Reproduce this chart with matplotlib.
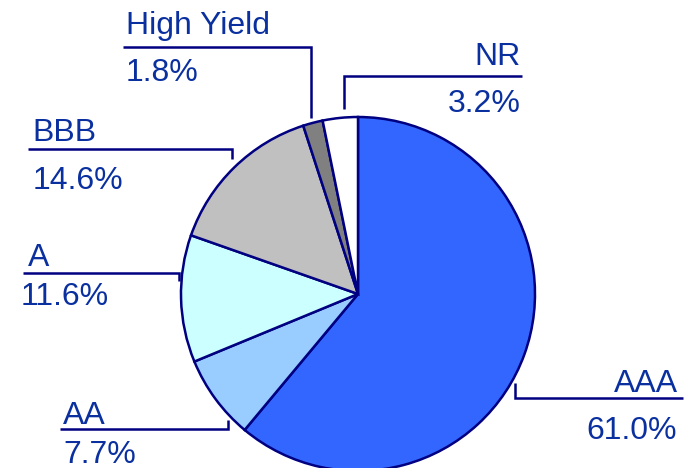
import matplotlib
matplotlib.use("Agg")
import matplotlib.pyplot as plt

categories = ["AAA", "AA", "A", "BBB", "High Yield", "NR"]
values = [61.0, 7.7, 11.6, 14.6, 1.8, 3.2]
pct_labels = ["61.0%", "7.7%", "11.6%", "14.6%", "1.8%", "3.2%"]
colors = ["#3366FF", "#99CCFF", "#CCFFFF", "#C0C0C0", "#808080", "#FFFFFF"]

W, H = 684, 468
fig = plt.figure(figsize=(W / 100, H / 100), dpi=100)
ax = fig.add_axes([0, 0, 1, 1])

def Y(py):
    return H - py

cx, cy, r = 358, 294, 177
ax.pie(values, colors=colors, startangle=90, counterclock=False,
       center=(cx, Y(cy)), radius=r, frame=True,
       wedgeprops=dict(edgecolor="#000080", linewidth=1.8))
ax.set_xlim(0, W)
ax.set_ylim(0, H)
ax.set_aspect("equal")
ax.axis("off")

line_c = "#000080"
text_c = "#0A30A0"
fs = 23
font = "Liberation Sans"

specs = {
    "AAA": dict(pts=[(515, 383), (515, 398), (683, 398)], lab=(678, 392), pct=(677, 439), ha="right"),
    "AA": dict(pts=[(60, 429), (228, 429), (228, 420)], lab=(63, 424), pct=(63, 463), ha="left"),
    "A": dict(pts=[(23, 273), (179, 273), (179, 281)], lab=(28, 266), pct=(21, 305), ha="left"),
    "BBB": dict(pts=[(28, 149), (232, 149), (232, 159)], lab=(32, 141), pct=(33, 189), ha="left"),
    "High Yield": dict(pts=[(123, 47), (311, 47), (311, 118)], lab=(126, 34), pct=(126, 81), ha="left"),
    "NR": dict(pts=[(344, 109), (344, 76), (522, 76)], lab=(521, 65), pct=(521, 112), ha="right"),
}

for cat, pct in zip(categories, pct_labels):
    s = specs[cat]
    xs = [p[0] for p in s["pts"]]
    ys = [Y(p[1]) for p in s["pts"]]
    ax.plot(xs, ys, color=line_c, lw=1.8, solid_capstyle="butt", solid_joinstyle="miter")
    ax.text(s["lab"][0], Y(s["lab"][1]), cat, ha=s["ha"], va="baseline",
            fontsize=fs, color=text_c, family=font)
    ax.text(s["pct"][0], Y(s["pct"][1]), pct, ha=s["ha"], va="baseline",
            fontsize=fs, color=text_c, family=font)

fig.savefig("out.png", dpi=100)
